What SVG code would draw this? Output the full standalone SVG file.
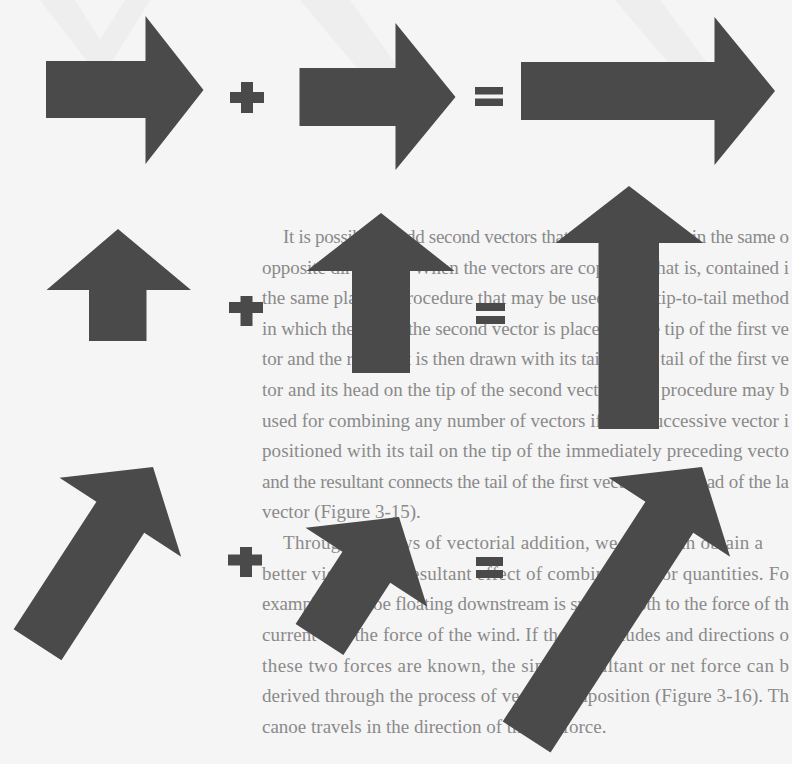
<svg xmlns="http://www.w3.org/2000/svg" width="792" height="764" viewBox="0 0 792 764">
<style>
.bg{fill:#f5f5f5}
.ghost{fill:#eeeeee}
.ar{fill:#4a4a4a}
.op{fill:#4a4a4a}
.tx{font-family:"Liberation Serif","DejaVu Serif",serif;font-size:19px;fill:#8a8a8a}
</style>
<rect class="bg" x="0" y="0" width="792" height="764"/>
<g id="show-through">
<polygon class="ghost" points="40,0 75,0 100,40 125,0 150,0 110,65 90,65"/>
<polygon class="ghost" points="300,0 350,0 400,70 380,95"/>
<polygon class="ghost" points="615,0 660,0 720,80 700,100"/>
</g>
<g id="page-text" class="tx">
<text x="283" y="243" textLength="506">It is possible to add second vectors that are not oriented in the same o</text>
<text x="262" y="274" textLength="527">opposite directions. When the vectors are coplanar, that is, contained i</text>
<text x="262" y="304" textLength="527">the same plane, a procedure that may be used is the tip-to-tail method</text>
<text x="262" y="335" textLength="527">in which the tail of the second vector is placed on the tip of the first ve</text>
<text x="262" y="365" textLength="527">tor and the resultant is then drawn with its tail on the tail of the first ve</text>
<text x="262" y="396" textLength="527">tor and its head on the tip of the second vector. This procedure may b</text>
<text x="262" y="427" textLength="527">used for combining any number of vectors if each successive vector i</text>
<text x="262" y="457" textLength="527">positioned with its tail on the tip of the immediately preceding vecto</text>
<text x="262" y="488" textLength="527">and the resultant connects the tail of the first vector to the head of the la</text>
<text x="262" y="518">vector (Figure 3-15).</text>
<text x="283" y="549" textLength="480">Through the laws of vectorial addition, we often can obtain a</text>
<text x="262" y="580" textLength="527">better view of the resultant effect of combined vector quantities. Fo</text>
<text x="262" y="610" textLength="527">example, a canoe floating downstream is subject both to the force of th</text>
<text x="262" y="641" textLength="527">current and the force of the wind. If the magnitudes and directions o</text>
<text x="262" y="672" textLength="527">these two forces are known, the single resultant or net force can b</text>
<text x="262" y="702" textLength="527">derived through the process of vector composition (Figure 3-16). Th</text>
<text x="262" y="733">canoe travels in the direction of the net force.</text>
</g>
<g id="row1">
<polygon id="r1-arrow1" class="ar" points="46,61 145.5,61 145.5,16 203.5,90 145.5,164 145.5,118 46,118"/>
<g id="r1-plus" class="op"><rect x="241" y="82" width="12" height="31"/><rect x="230" y="92" width="34" height="11"/></g>
<polygon id="r1-arrow2" class="ar" points="299.5,68 395.5,68 395.5,23 455.5,97 395.5,170 395.5,126 299.5,126"/>
<g id="r1-equals" class="op"><rect x="475" y="87" width="28" height="7.5"/><rect x="475" y="98.5" width="28" height="7.5"/></g>
<polygon id="r1-arrow3" class="ar" points="521,62 714.5,62 714.5,17 775,91 714.5,165 714.5,120 521,120"/>
</g>
<g id="row2">
<polygon id="r2-arrow1" class="ar" points="118,229 191,290 146.5,290 146.5,341 89,341 89,290 46.5,290"/>
<g id="r2-plus" class="op"><rect x="240.5" y="296" width="12" height="30"/><rect x="229" y="302" width="34" height="11"/></g>
<polygon id="r2-arrow2" class="ar" points="381,213 454.5,271 410,271 410,373 352,373 352,271 306.5,271"/>
<g id="r2-equals" class="op"><rect x="476" y="303" width="29" height="8"/><rect x="476" y="316" width="29" height="8"/></g>
<polygon id="r2-arrow3" class="ar" points="629,186 703.5,243 659,243 659,429 598.5,429 598.5,243 555.5,243"/>
</g>
<g id="row3">
<polygon id="r3-arrow1" class="ar" transform="translate(153,467) rotate(33)" points="0,0 72.5,60 28.5,60 28.5,212 -28.5,212 -28.5,60 -72.5,60"/>
<g id="r3-plus" class="op"><rect x="240" y="547" width="12" height="30"/><rect x="228" y="554.5" width="34" height="11"/></g>
<polygon id="r3-arrow2" class="ar" transform="translate(399,517) rotate(33)" points="0,0 72.5,60 28.5,60 28.5,146 -28.5,146 -28.5,60 -72.5,60"/>
<g id="r3-equals" class="op"><rect x="476" y="557" width="27" height="9"/><rect x="476" y="570" width="27" height="8"/></g>
<polygon id="r3-arrow3" class="ar" transform="translate(702,467) rotate(33)" points="0,0 72.5,60 28.5,60 28.5,322 -28.5,322 -28.5,60 -72.5,60"/>
</g>
</svg>
